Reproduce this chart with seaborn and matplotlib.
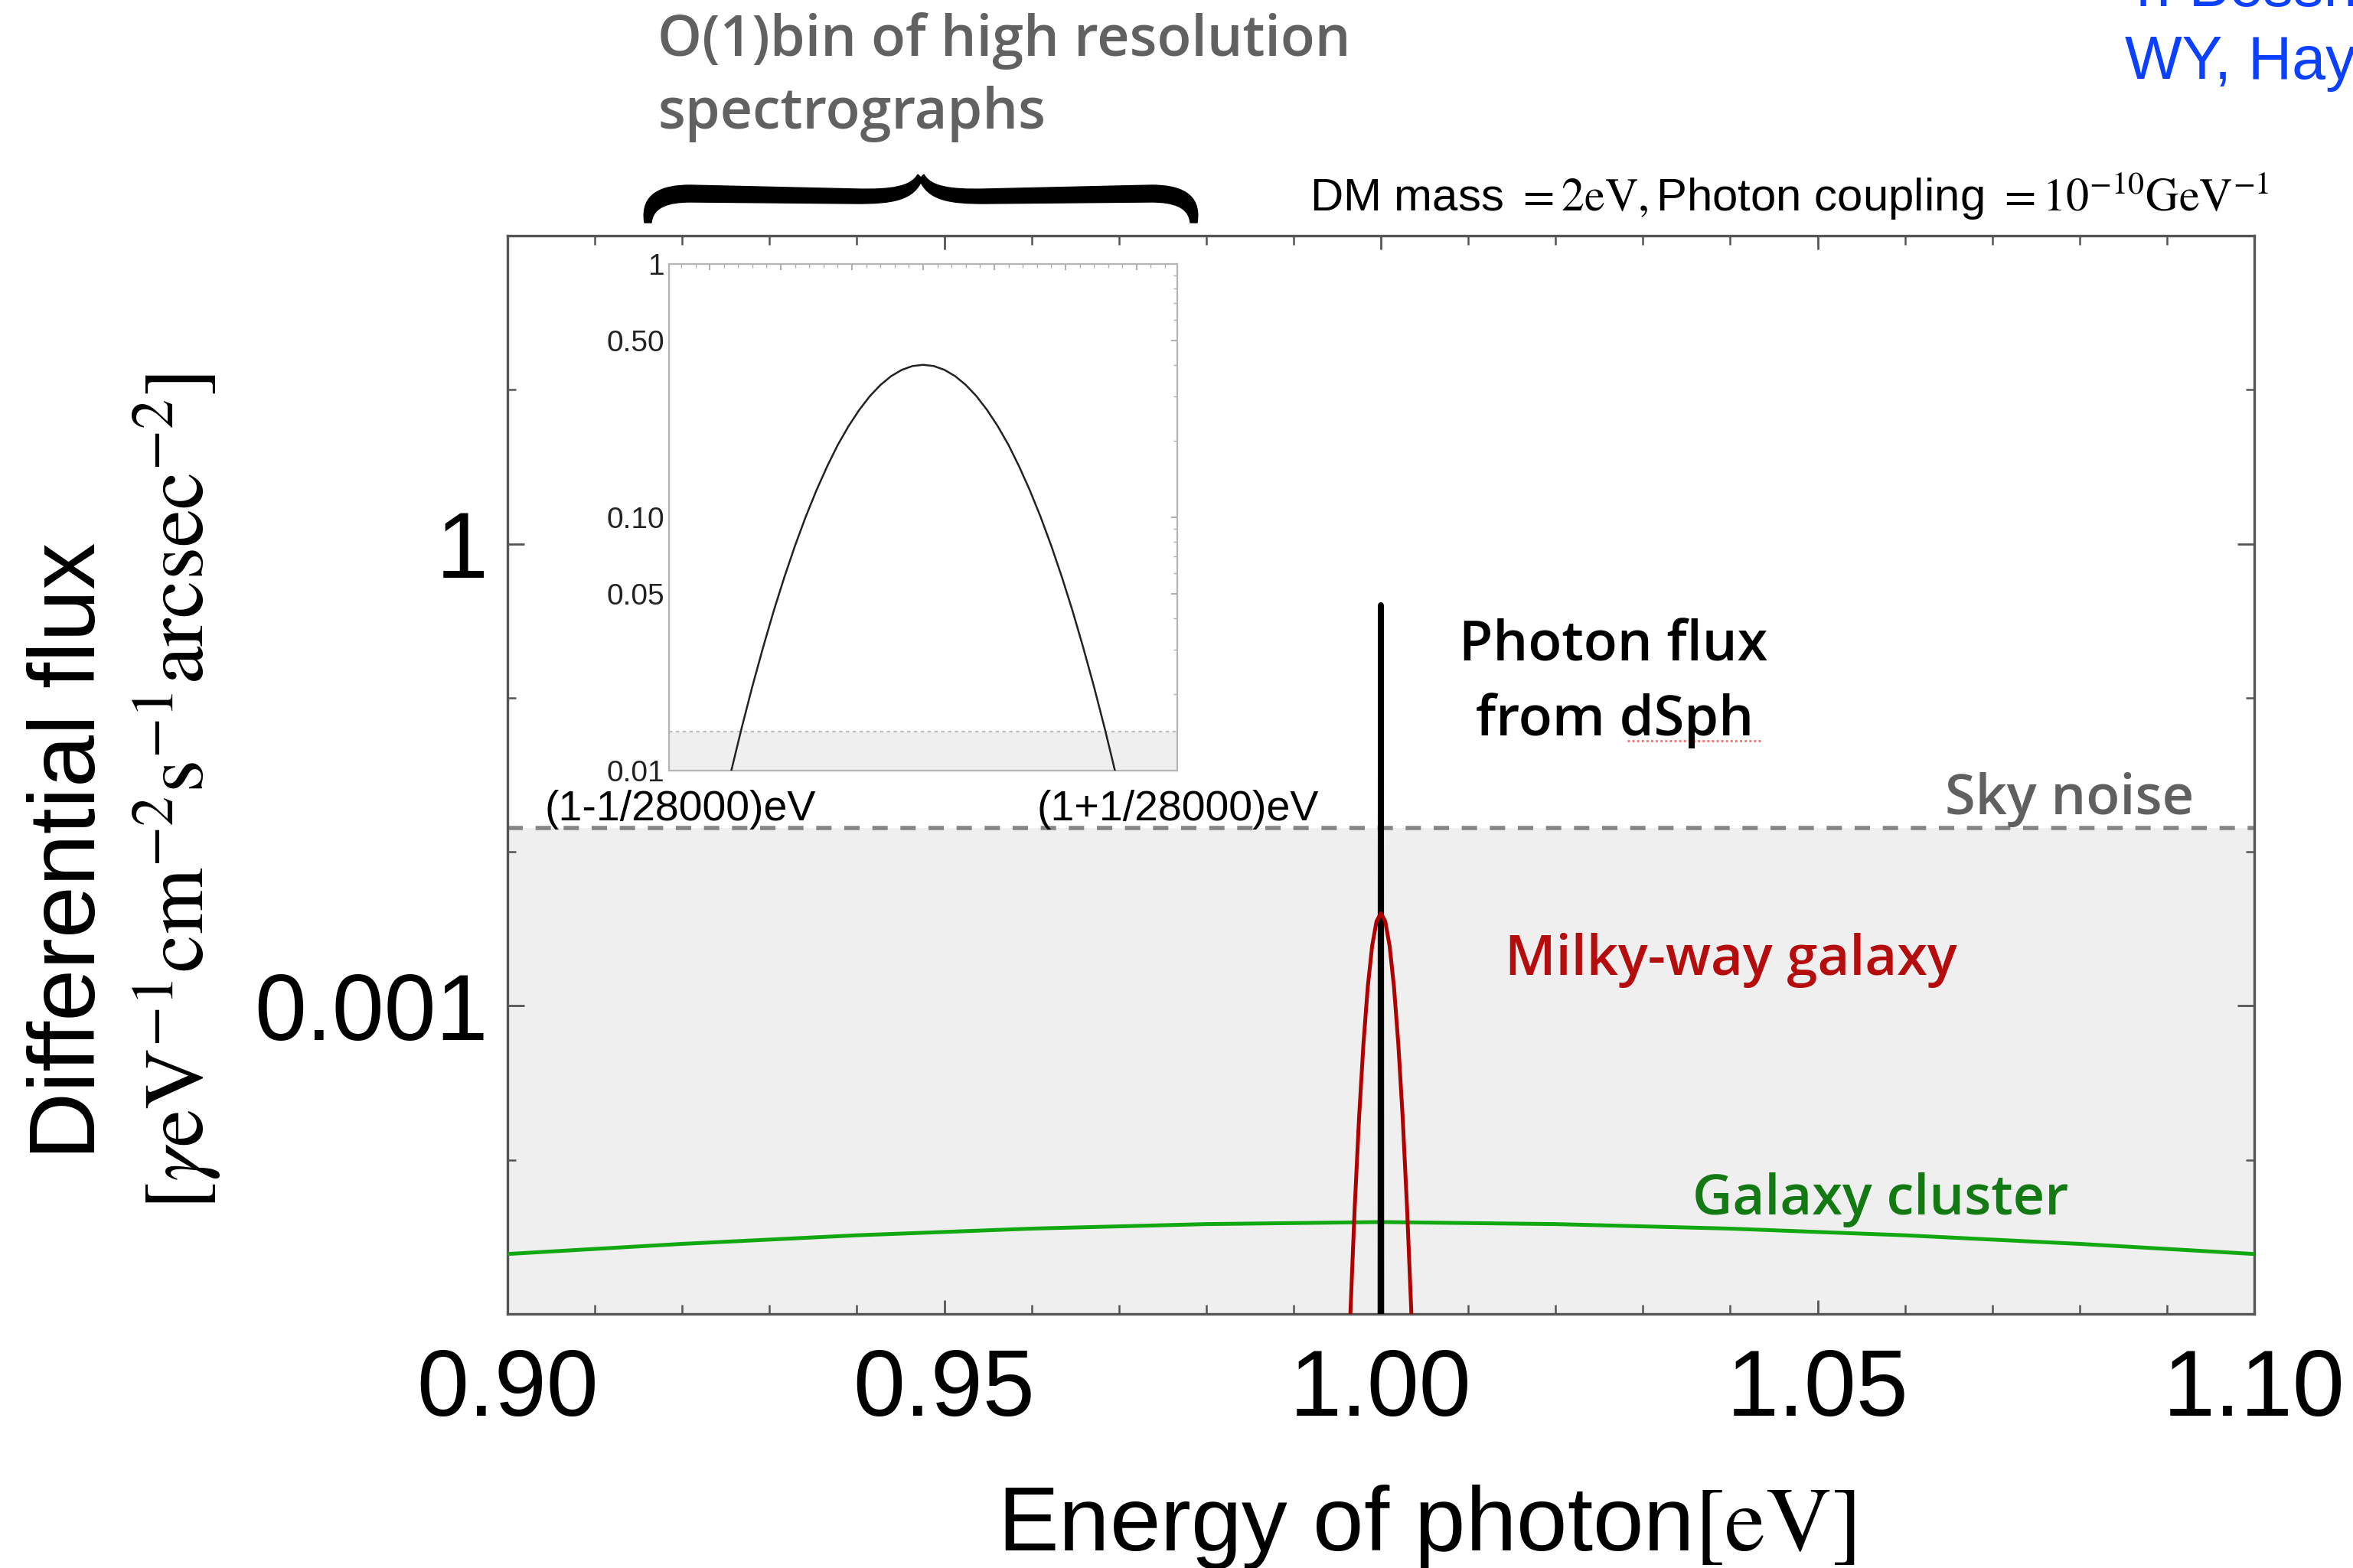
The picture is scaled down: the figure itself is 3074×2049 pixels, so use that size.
import numpy as np
import matplotlib
matplotlib.use("Agg")
import matplotlib.pyplot as plt
import seaborn as sns
from matplotlib.path import Path
from matplotlib.patches import PathPatch
from matplotlib.ticker import FixedLocator, MultipleLocator, NullFormatter, FixedFormatter

# ---------------- data ----------------
# Galaxy cluster (green), energy [eV] and differential flux
cluster_energy = [0.90, 0.92, 0.94, 0.96, 0.98, 1.00, 1.02, 1.04, 1.06, 1.08, 1.10]
cluster_flux = [2.45e-5, 2.85e-5, 3.24e-5, 3.58e-5, 3.83e-5, 3.95e-5,
                3.83e-5, 3.58e-5, 3.24e-5, 2.85e-5, 2.45e-5]

# Milky-way galaxy (red)
milkyway_energy = [0.9960, 0.9965, 0.9970, 0.9975, 0.9980, 0.9985, 0.9990, 0.9995, 1.0000,
                   1.0005, 1.0010, 1.0015, 1.0020, 1.0025, 1.0030, 1.0035, 1.0040]
milkyway_flux = [1.56e-6, 9.8e-6, 4.84e-5, 1.87e-4, 5.62e-4, 1.33e-3, 2.45e-3, 3.54e-3, 3.99e-3,
                 3.54e-3, 2.45e-3, 1.33e-3, 5.62e-4, 1.87e-4, 4.84e-5, 9.8e-6, 1.56e-6]

# Photon flux from dSph (black); energy offset from 1 eV in micro-eV
dsph_offset_ueV = [-50, -44, -38, -33, -30, -28.5, -27, -25.5, -24, -22.5, -21, -19.5, -18,
                   -16.5, -15, -13.5, -12, -10.5, -9, -7.5, -6, -4.5, -3, -1.5, 0,
                   1.5, 3, 4.5, 6, 7.5, 9, 10.5, 12, 13.5, 15, 16.5, 18, 19.5, 21, 22.5,
                   24, 25.5, 27, 28.5, 30, 33, 38, 44, 50]
dsph_flux = [1.24e-6, 2.16e-5, 2.62e-4, 1.59e-3, 4.15e-3, 6.48e-3, 9.89e-3, 0.01475, 0.0215,
             0.0306, 0.0427, 0.0581, 0.0773, 0.1005, 0.1277, 0.1586, 0.193, 0.2286, 0.265,
             0.3006, 0.333, 0.3608, 0.382, 0.3955, 0.400,
             0.3955, 0.382, 0.3608, 0.333, 0.3006, 0.265, 0.2286, 0.193, 0.1586, 0.1277,
             0.1005, 0.0773, 0.0581, 0.0427, 0.0306, 0.0215, 0.01475, 9.89e-3, 6.48e-3,
             4.15e-3, 1.59e-3, 2.62e-4, 2.16e-5, 1.24e-6]

sky_noise = 0.0143

x_ticks = [0.90, 0.95, 1.00, 1.05, 1.10]
x_ticklabels = ["0.90", "0.95", "1.00", "1.05", "1.10"]
y_ticks = [1e-3, 1.0]
y_ticklabels = ["0.001", "1"]
y_minor = [1e-4, 1e-2, 1e-1, 1e1]
inset_yticks = [0.01, 0.05, 0.10, 0.50, 1.0]
inset_yticklabels = ["0.01", "0.05", "0.10", "0.50", "1"]
resolution = 28000

dsph_energy = [1.0 + o * 1e-6 for o in dsph_offset_ueV]

# ---------------- style ----------------
sns.set_theme(style="white")
plt.rcParams["font.family"] = ["Liberation Sans", "DejaVu Sans"]
plt.rcParams["mathtext.fontset"] = "stix"
plt.rcParams["text.color"] = "black"
plt.rcParams["xtick.labelcolor"] = "black"
plt.rcParams["ytick.labelcolor"] = "black"

W, H = 3074, 2049
fig = plt.figure(figsize=(W / 200, H / 200), dpi=200)

def fx(px):
    return px / W

def fy(py):
    return 1 - py / H

# main axes
ax = fig.add_axes([fx(663), fy(1717), fx(2945) - fx(663), fy(308) - fy(1717)])
ax.set_yscale("log")
ax.set_xlim(0.9, 1.1)
ax.set_ylim(1e-5, 1e2)
ax.set_facecolor("white")
ax.axhspan(1e-5, sky_noise, color="#efefef", zorder=0, lw=0)
ax.axhline(sky_noise, color="#858585", lw=2.0, ls=(0, (3.6, 3.0)), zorder=1)

sns.lineplot(x=cluster_energy, y=cluster_flux, ax=ax, color="#12a812", lw=1.8,
             estimator=None, sort=False, zorder=3)
sns.lineplot(x=dsph_energy, y=dsph_flux, ax=ax, color="black", lw=2.7,
             estimator=None, sort=False, zorder=4)
sns.lineplot(x=milkyway_energy, y=milkyway_flux, ax=ax, color="#b00000", lw=1.8,
             estimator=None, sort=False, zorder=5)

ax.xaxis.set_major_locator(FixedLocator(x_ticks))
ax.xaxis.set_major_formatter(FixedFormatter(x_ticklabels))
ax.xaxis.set_minor_locator(MultipleLocator(0.01))
ax.yaxis.set_major_locator(FixedLocator(y_ticks))
ax.yaxis.set_major_formatter(FixedFormatter(y_ticklabels))
ax.yaxis.set_minor_locator(FixedLocator(y_minor))
ax.yaxis.set_minor_formatter(NullFormatter())
ax.tick_params(axis="x", which="major", direction="in", length=6.5, width=1.0,
               color="#555555", top=True, bottom=True, labelsize=44, pad=16)
ax.tick_params(axis="x", which="minor", direction="in", length=4.2, width=0.9,
               color="#555555", top=True, bottom=True)
ax.tick_params(axis="y", which="major", direction="in", length=8, width=1.0,
               color="#555555", left=True, right=True, labelsize=44, pad=9)
ax.tick_params(axis="y", which="minor", direction="in", length=4, width=0.9,
               color="#555555", left=True, right=True)
for s in ax.spines.values():
    s.set_color("#555555")
    s.set_linewidth(1.2)
ax.set_xlabel("")
ax.set_ylabel("")

# inset
axin = fig.add_axes([fx(874), fy(1007), fx(1538) - fx(874), fy(345) - fy(1007)])
axin.set_yscale("log")
axin.set_xlim(1 - 1 / resolution, 1 + 1 / resolution)
axin.set_ylim(0.01, 1)
axin.set_facecolor("white")
axin.axhspan(0.01, sky_noise, color="#efefef", zorder=0, lw=0)
axin.axhline(sky_noise, color="#bdbdbd", lw=0.8, ls=(0, (2, 2)), zorder=1)
sns.lineplot(x=dsph_energy, y=dsph_flux, ax=axin, color="#222222", lw=0.9,
             estimator=None, sort=False, zorder=3)
axin.xaxis.set_major_locator(MultipleLocator(1e-5))
axin.xaxis.set_minor_locator(MultipleLocator(2e-6))
axin.xaxis.set_major_formatter(NullFormatter())
axin.yaxis.set_major_locator(FixedLocator(inset_yticks))
axin.yaxis.set_major_formatter(FixedFormatter(inset_yticklabels))
axin.yaxis.set_minor_locator(FixedLocator([0.02, 0.03, 0.04, 0.06, 0.07, 0.08, 0.09,
                                           0.2, 0.3, 0.4, 0.6, 0.7, 0.8, 0.9]))
axin.yaxis.set_minor_formatter(NullFormatter())
axin.tick_params(which="major", direction="in", length=3, width=0.6, color="#a0a0a0",
                 top=True, right=True, labelsize=14, pad=2, labelcolor="#222222")
axin.tick_params(which="minor", direction="in", length=1.8, width=0.5, color="#b0b0b0",
                 top=True, right=True)
for s in axin.spines.values():
    s.set_color("#b5b5b5")
    s.set_linewidth(0.8)
axin.set_xlabel("")
axin.set_ylabel("")

fig.text(fx(889), fy(1072), "(1-1/28000)eV", fontsize=20, ha="center", va="baseline")
fig.text(fx(1539), fy(1072), "(1+1/28000)eV", fontsize=20, ha="center", va="baseline")

# axis labels
fig.text(0.606, fy(2026), r"Energy of photon$[\mathrm{eV}]$", fontsize=43,
         ha="center", va="baseline")
fig.text(fx(92), fy(1112), "Differential flux", fontsize=44, rotation=90,
         ha="center", va="center")
fig.text(fx(231), fy(1034),
         r"$[\gamma\mathrm{eV}^{-1}\mathrm{cm}^{-2}\mathrm{s}^{-1}\mathrm{arcsec}^{-2}]$",
         fontsize=40, rotation=90, ha="center", va="center")

# title
fig.text(fx(1711), fy(275),
         r"DM mass $=2\mathrm{eV},$Photon coupling $=10^{-10}\mathrm{GeV}^{-1}$",
         fontsize=21.6, ha="left", va="baseline")

# annotations
ann = dict(family=["Open Sans", "DejaVu Sans"], fontweight="semibold", fontsize=26)
fig.text(fx(2108), fy(863), "Photon flux", color="black", ha="center", va="baseline", **ann)
fig.text(fx(2110), fy(961), "from dSph", color="black", ha="center", va="baseline", **ann)
fig.text(fx(2866), fy(1064), "Sky noise", color="#606060", ha="right", va="baseline", **ann)
fig.text(fx(1966), fy(1274), "Milky-way galaxy", color="#b50d0d", ha="left", va="baseline", **ann)
fig.text(fx(2211), fy(1587), "Galaxy cluster", color="#137a13", ha="left", va="baseline", **ann)
fig.add_artist(plt.Line2D([fx(2126), fx(2300)], [fy(968), fy(968)], color="#ff6a6a",
                          lw=1.0, ls=(0, (1, 1.2)), transform=fig.transFigure))

# top-left note and brace
note = dict(family=["Open Sans", "DejaVu Sans"], fontsize=26.5, color="#616161",
            fontweight="semibold")
fig.text(fx(859), fy(73), "O(1)bin of high resolution", ha="left", va="baseline", **note)
fig.text(fx(859), fy(168), "spectrographs", ha="left", va="baseline", **note)

def brace_half(mirror=False, cx=1203):
    pts = [(842, 291), (836, 252), (866, 242), (902, 242), (1120, 247),
           (1165, 248), (1190, 244), (1199, 228),
           (1205, 234), (1194, 262), (1165, 266), (1120, 266), (902, 264),
           (874, 264), (853, 270), (851, 291), (842, 291)]
    codes = [Path.MOVETO, Path.CURVE4, Path.CURVE4, Path.CURVE4, Path.LINETO,
             Path.CURVE4, Path.CURVE4, Path.CURVE4,
             Path.LINETO, Path.CURVE4, Path.CURVE4, Path.CURVE4, Path.LINETO,
             Path.CURVE4, Path.CURVE4, Path.CURVE4, Path.CLOSEPOLY]
    out = []
    for x, y in pts:
        if mirror:
            x = 2 * cx - x
        out.append((fx(x), fy(y)))
    return Path(out, codes)

for m in (False, True):
    fig.add_artist(PathPatch(brace_half(m), facecolor="black", edgecolor="black", lw=0.5,
                             transform=fig.transFigure))

# top-right blue reference text (cut by the figure edge)
blue = dict(fontsize=28.5, color="#0b40ff", ha="left", va="baseline")
fig.text(fx(2776), fy(8), "T. Bessho, Y. Ikeda, WY", **blue)
fig.text(fx(2776), fy(103), "WY, Hayashi", **blue)

fig.savefig("out.png", dpi=200)
